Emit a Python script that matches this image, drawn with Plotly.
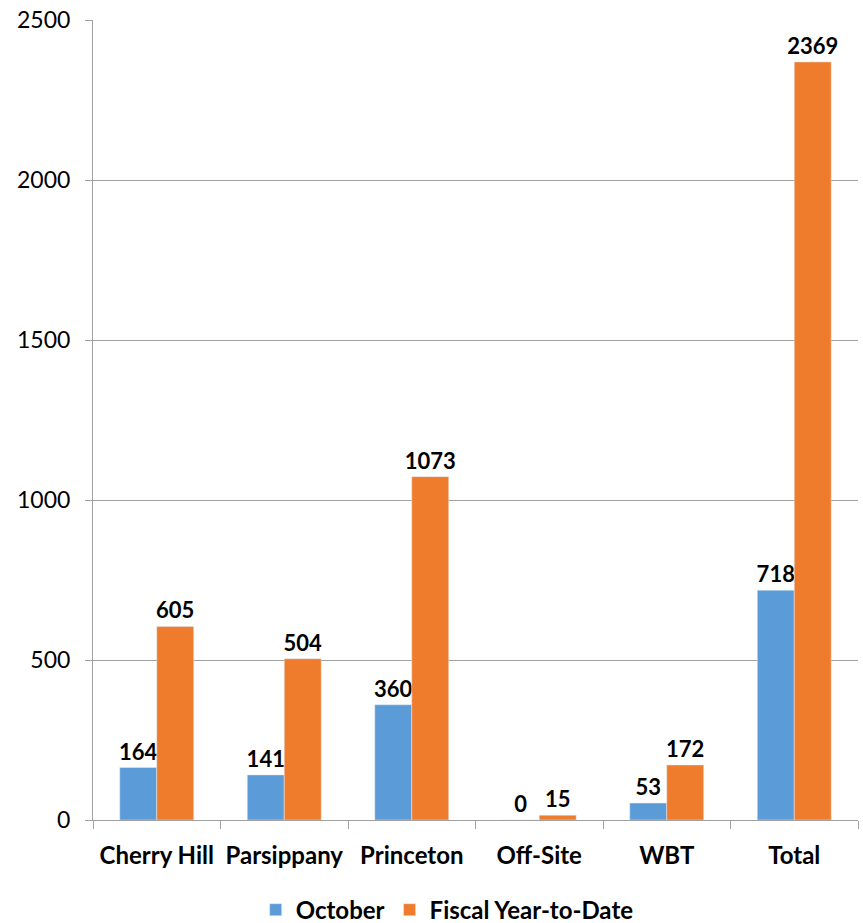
import plotly.graph_objects as go

categories = ['Cherry Hill', 'Parsippany', 'Princeton', 'Off-Site', 'WBT', 'Total']
october = [164, 141, 360, 0, 53, 718]
fiscal_ytd = [605, 504, 1073, 15, 172, 2369]
y_ticks = [0, 500, 1000, 1500, 2000, 2500]

font_dict = dict(family='Lato, Carlito, Arial', size=23, color='black')
label_font = dict(family='Lato, Carlito, Arial', size=22, color='black', weight='bold')
cat_font = dict(family='Lato, Carlito, Arial', size=24, color='black', weight='bold')

fig = go.Figure()
fig.add_trace(go.Bar(
    x=categories, y=october, name='<b>October</b>',
    marker=dict(color='#5A9BD8'),
    text=october, textposition='outside', textfont=label_font,
    texttemplate='<b>%{text}</b>', cliponaxis=False,
))
fig.add_trace(go.Bar(
    x=categories, y=fiscal_ytd, name='<b>Fiscal Year-to-Date</b>',
    marker=dict(color='#EF7B2C'),
    text=fiscal_ytd, textposition='outside', textfont=label_font,
    texttemplate='<b>%{text}</b>', cliponaxis=False,
))

fig.update_layout(
    width=863, height=923,
    font=font_dict,
    plot_bgcolor='white',
    paper_bgcolor='white',
    barmode='group',
    bargap=0.42,
    bargroupgap=0,
    uniformtext=dict(minsize=22, mode='show'),
    margin=dict(l=93, r=5, t=20, b=103),
    showlegend=True,
    legend=dict(orientation='h', x=0.463, xanchor='center',
                yref='container', y=0.014, yanchor='middle',
                font=cat_font, itemwidth=30, traceorder='normal'),
)
fig.update_yaxes(
    range=[0, 2500],
    tickvals=y_ticks,
    automargin=False,
    showline=True, linecolor='#A0A0A0', linewidth=1,
    ticks='outside', ticklen=7, tickcolor='#A0A0A0',
    ticklabelstandoff=10,
    ticklabeloverflow='allow',
    showgrid=True, gridcolor='#A0A0A0', gridwidth=1,
    zeroline=False,
    tickfont=font_dict,
)
fig.update_xaxes(
    automargin=False,
    showline=True, linecolor='#A0A0A0', linewidth=1,
    ticks='outside', ticklen=8, tickcolor='#A0A0A0', tickson='boundaries',
    ticklabelstandoff=14,
    tickfont=cat_font,
    tickprefix='<b>', ticksuffix='</b>',
)

# drop the default 8px body margin so the figure fills the window
fig.write_html('out.html', config={'displayModeBar': False},
               post_script="document.body.style.margin='0';")
